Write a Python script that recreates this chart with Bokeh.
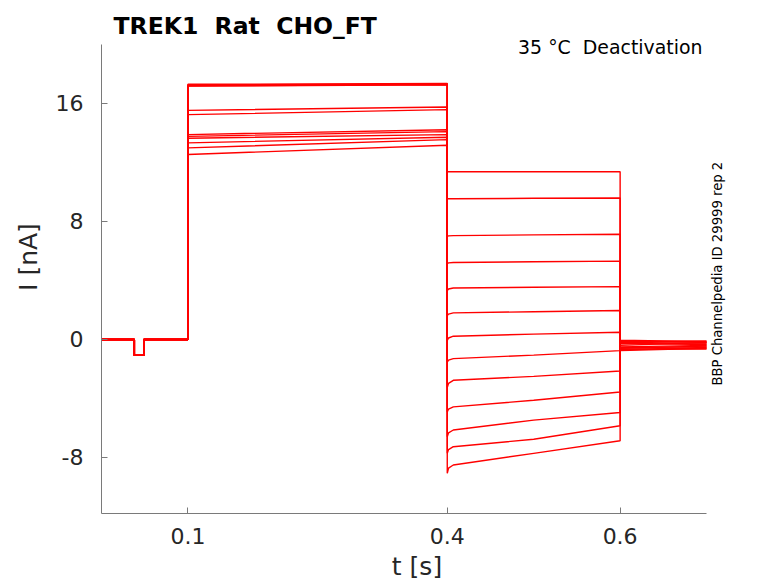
"""TREK1 deactivation traces (BBP Channelpedia style) redrawn with Bokeh."""

from bokeh.embed import file_html
from bokeh.models import ColumnDataSource, FixedTicker, Label, Range1d
from bokeh.plotting import figure
from bokeh.resources import INLINE

#: Holding segment shared by every sweep (with the small test pulse).
HOLD_T = [0.0, 0.038, 0.038, 0.049, 0.049, 0.1]
HOLD_I = [0.0, 0.0, -1.08, -1.08, 0.0, 0.0]

#: Times of the step protocol points (prepulse, test step, return).
STEP_T = [0.1, 0.4, 0.4, 0.4015, 0.407, 0.5, 0.6, 0.6, 0.7]

#: Prepulse current at its start and end (nA), per sweep.
ACT_START = [17.30, 17.26, 17.22, 17.20, 17.18, 15.53, 15.24,
             13.89, 13.77, 13.64, 13.33, 12.99, 12.54]
ACT_END = [17.35, 17.33, 17.30, 17.28, 17.26, 15.76, 15.58,
           14.22, 14.09, 13.89, 13.71, 13.55, 13.17]

#: Test-step current: first sample, early, settled, mid-step and last sample (nA).
DEACT_FIRST = [11.37, 9.54, 7.00, 5.15, 3.31, 1.62, -0.07,
               -1.53, -3.26, -4.91, -6.59, -7.72, -9.07]
DEACT_EARLY = [11.37, 9.54, 7.02, 5.19, 3.42, 1.72, 0.10,
               -1.40, -2.98, -4.72, -6.33, -7.47, -8.72]
DEACT_SETTLED = [11.37, 9.54, 7.04, 5.22, 3.49, 1.80, 0.22,
                 -1.30, -2.77, -4.57, -6.14, -7.27, -8.51]
DEACT_MID = [11.37, 9.57, 7.09, 5.27, 3.54, 1.88, 0.36,
             -1.06, -2.50, -4.12, -5.47, -6.77, -7.72]
DEACT_LAST = [11.37, 9.59, 7.13, 5.31, 3.58, 1.96, 0.49,
              -0.76, -2.14, -3.56, -4.95, -5.85, -6.87]

#: Tail current after the return to holding (nA).
TAIL_START = [-0.05, -0.75, -0.10, -0.70, -0.20, -0.60, -0.30,
              -0.50, -0.15, -0.65, -0.25, -0.55, -0.40]
TAIL_END = [-0.15, -0.60, -0.20, -0.55, -0.25, -0.45, -0.30,
            -0.40, -0.10, -0.65, -0.35, -0.50, -0.20]

X_TICKS = [0.1, 0.4, 0.6]
Y_TICKS = [-8, 0, 8, 16]
Y_TICK_LABELS = ["-8", "0", "8", "16"]

FONT = "DejaVu Sans"
TEXT = "#262626"
SPINE = "#7a7a7a"

xs, ys = [], []
for k in range(len(ACT_START)):
    xs.append(HOLD_T + STEP_T)
    ys.append(HOLD_I + [ACT_START[k], ACT_END[k], DEACT_FIRST[k], DEACT_EARLY[k],
                        DEACT_SETTLED[k], DEACT_MID[k], DEACT_LAST[k],
                        TAIL_START[k], TAIL_END[k]])
src = ColumnDataSource({"xs": xs, "ys": ys})

# frame reaches the top edge so the texts above the axes can live inside it
p = figure(
    width=778,
    height=583,
    x_range=Range1d(0.0, 0.73),
    y_range=Range1d(-11.8, 22.98),
    output_backend="svg",
    toolbar_location=None,
    title=None,
    min_border_left=101,
    min_border_right=46,
    min_border_top=0,
    min_border_bottom=70,
)
p.multi_line("xs", "ys", source=src, line_color="#ff0000", line_width=1.4)

p.outline_line_color = None
p.xgrid.visible = False
p.ygrid.visible = False
p.background_fill_color = "white"
p.border_fill_color = "white"

p.xaxis.ticker = FixedTicker(ticks=X_TICKS)
p.yaxis.ticker = FixedTicker(ticks=Y_TICKS)
p.yaxis.major_label_overrides = dict(zip(Y_TICKS, Y_TICK_LABELS))
p.xaxis.bounds = (0.0, 0.7)
p.yaxis.bounds = (-11.8, 20.0)
p.xaxis.axis_label = "t [s]"
p.yaxis.axis_label = "I [nA]"
for ax in (p.xaxis, p.yaxis):
    ax.axis_line_color = SPINE
    ax.major_tick_line_color = SPINE
    ax.major_tick_in = 6
    ax.major_tick_out = 0
    ax.minor_tick_line_color = None
    ax.major_label_text_font = FONT
    ax.major_label_text_font_size = "22px"
    ax.major_label_text_color = TEXT
    ax.axis_label_text_font = FONT
    ax.axis_label_text_font_size = "25px"
    ax.axis_label_text_font_style = "normal"
    ax.axis_label_text_color = TEXT
p.xaxis.major_label_standoff = 14
p.xaxis.axis_label_standoff = 5
p.yaxis.major_label_standoff = 18
p.yaxis.axis_label_standoff = 10

p.add_layout(Label(x=0.0139, y=21.22, text="TREK1 \u00a0Rat \u00a0CHO_FT", text_font=FONT,
                   text_font_size="23.5px", text_font_style="bold", text_color="black",
                   text_align="left", text_baseline="alphabetic"))
p.add_layout(Label(x=0.6953, y=19.82, text="35 °C \u00a0Deactivation", text_font=FONT,
                   text_font_size="18.9px", text_color="black",
                   text_align="right", text_baseline="alphabetic"))
p.add_layout(Label(x=0.7128, y=4.46, angle=1.5708,
                   text="BBP Channelpedia ID 29999 rep 2", text_font=FONT,
                   text_font_size="13.2px", text_color="black",
                   text_align="center", text_baseline="alphabetic"))

open("out.html", "w").write(file_html(p, INLINE))
